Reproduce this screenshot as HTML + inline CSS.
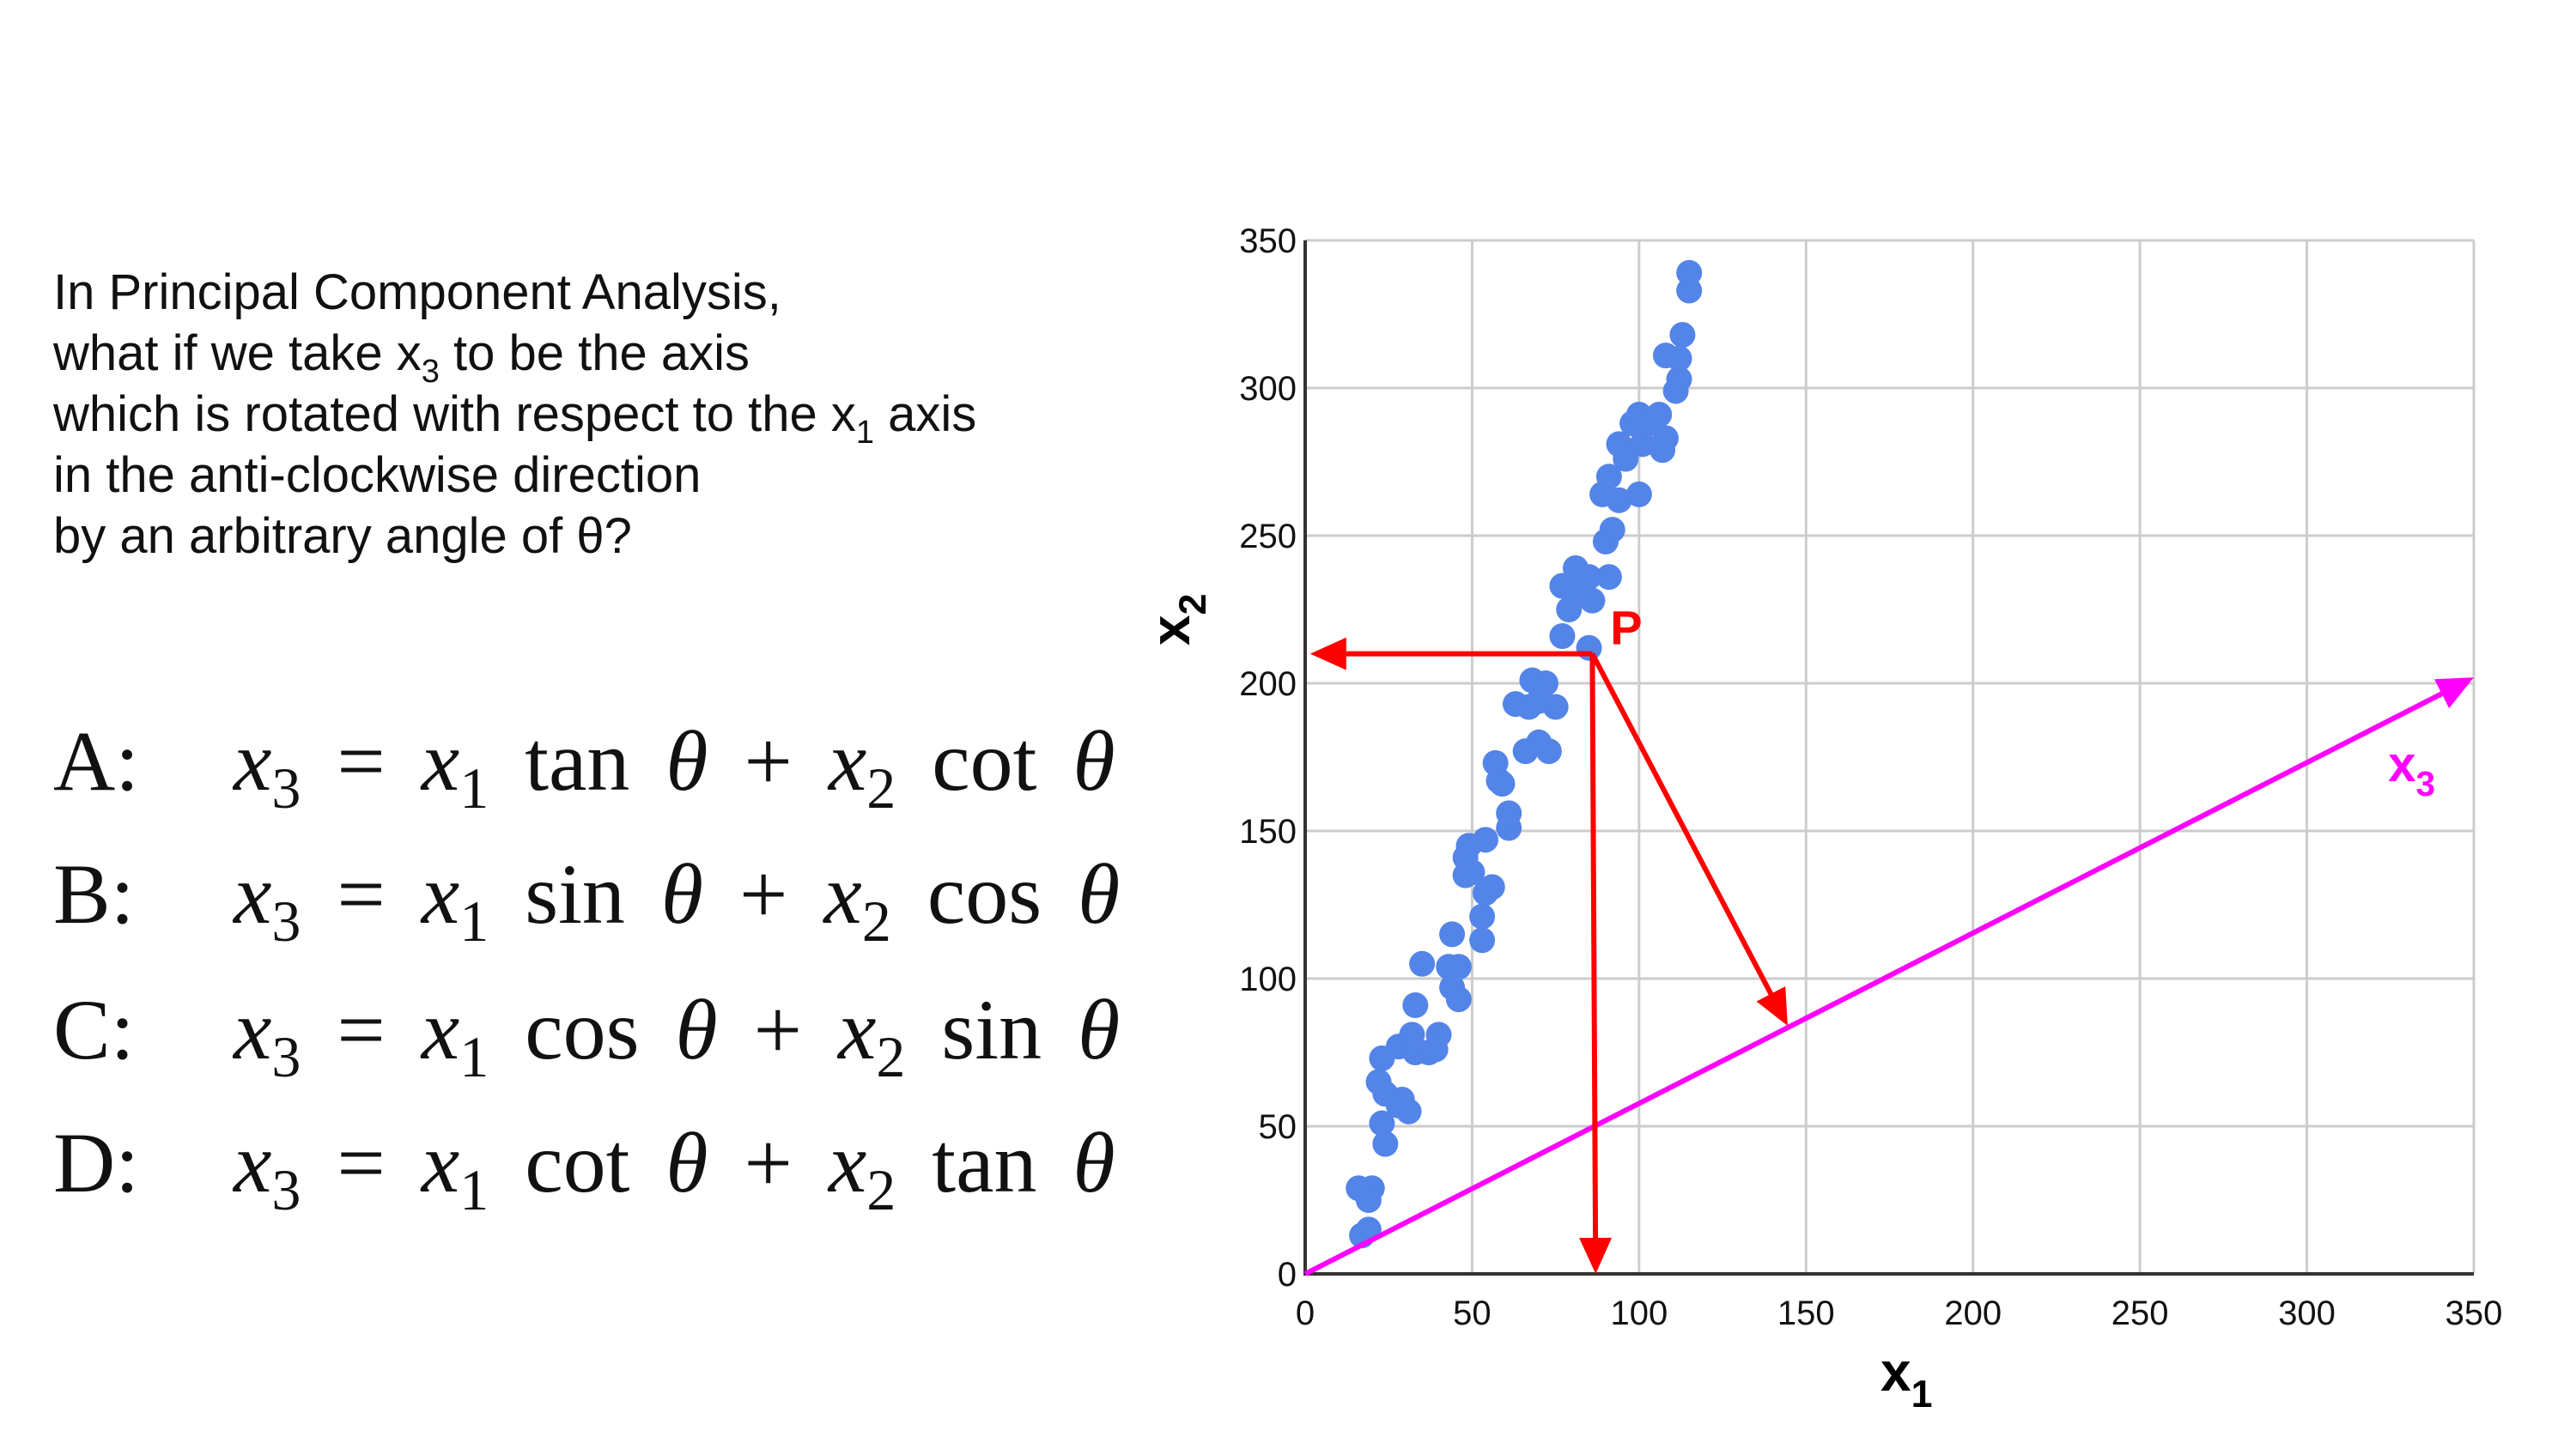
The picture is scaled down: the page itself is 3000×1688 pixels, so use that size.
<!DOCTYPE html>
<html><head><meta charset="utf-8"><style>
html,body{margin:0;padding:0;background:#fff;}
body{width:3000px;height:1688px;position:relative;overflow:hidden;font-family:"Liberation Sans",Arial,sans-serif;}
.q{position:absolute;left:62px;top:305px;font-size:58px;line-height:71px;color:#111;}
.q sub{font-size:38px;vertical-align:-14px;line-height:0;}
.eq{position:absolute;left:62px;font-family:"Liberation Serif","DejaVu Serif",serif;font-size:100px;color:#111;white-space:nowrap;word-spacing:17px;}
.eq .lab{display:inline-block;width:210px;word-spacing:0;}
.eq i{font-style:italic;}
.eq sub{font-size:68px;vertical-align:-21px;line-height:0;}
</style></head><body>
<div class="q">In Principal Component Analysis,<br>what if we take x<sub>3</sub> to be the axis<br>which is rotated with respect to the x<sub>1</sub> axis<br>in the anti-clockwise direction<br>by an arbitrary angle of θ?</div>
<div class="eq" style="top:829px"><span class="lab">A:</span><i>x</i><sub>3</sub> = <i>x</i><sub>1</sub> tan <i>θ</i> + <i>x</i><sub>2</sub> cot <i>θ</i></div>
<div class="eq" style="top:984px"><span class="lab">B:</span><i>x</i><sub>3</sub> = <i>x</i><sub>1</sub> sin <i>θ</i> + <i>x</i><sub>2</sub> cos <i>θ</i></div>
<div class="eq" style="top:1142px"><span class="lab">C:</span><i>x</i><sub>3</sub> = <i>x</i><sub>1</sub> cos <i>θ</i> + <i>x</i><sub>2</sub> sin <i>θ</i></div>
<div class="eq" style="top:1297px"><span class="lab">D:</span><i>x</i><sub>3</sub> = <i>x</i><sub>1</sub> cot <i>θ</i> + <i>x</i><sub>2</sub> tan <i>θ</i></div>
<svg id="chart" width="3000" height="1688" style="position:absolute;left:0;top:0" xmlns="http://www.w3.org/2000/svg"></svg>
<script>
const xTicks=[0,50,100,150,200,250,300,350];
const yTicks=[0,50,100,150,200,250,300,350];
const ptX=[16,20,19,17,19,22,23,24,23,24,28,31,29,28,32,33,33,37,40,39,35,43,46,44,46,44,53,53,54,56,48,50,48,49,54,61,61,58,57,59,66,70,73,63,67,68,72,75,70,77,85,77,81,85,82,86,79,91,90,92,89,91,94,100,94,98,100,96,101,106,108,107,103,111,112,108,112,113,115,115];
const ptY=[29,29,25,13,15,65,73,61,51,44,57,55,59,77,81,91,75,75,81,76,105,104,104,97,93,115,113,121,129,131,135,136,141,145,147,151,156,167,173,166,177,180,177,193,192,201,200,192,194,216,212,233,239,236,231,228,225,236,248,252,264,270,262,264,281,288,291,276,281,291,283,279,288,299,303,311,310,318,339,333];
const P=[86,210];
const projTip=[144.5,84];
const x3End=[350,202];
const L=1520,R=2881,T=280,B=1484;
const sx=v=>L+v/350*(R-L), sy=v=>B-v/350*(B-T);
const svg=document.getElementById('chart');
const NS='http://www.w3.org/2000/svg';
function mk(tag,a){const e=document.createElementNS(NS,tag);for(const k in a)e.setAttribute(k,a[k]);svg.appendChild(e);return e;}
xTicks.forEach(t=>{const g=mk('line',{x1:sx(t),x2:sx(t),y1:T,y2:B,stroke:'#cccccc','stroke-width':3});


const tx=mk('text',{x:sx(t),y:1543,'text-anchor':'middle','font-size':40,fill:'#111','font-family':'Liberation Sans, sans-serif'});tx.textContent=t;

});
yTicks.forEach(t=>{const g=mk('line',{x1:L,x2:R,y1:sy(t),y2:sy(t),stroke:'#cccccc','stroke-width':3});


const tx=mk('text',{x:1510,y:sy(t)+14,'text-anchor':'end','font-size':40,fill:'#111','font-family':'Liberation Sans, sans-serif'});tx.textContent=t;

});
let ax=mk('path',{d:`M${L} ${T} V${B} H${R}`,stroke:'#333',fill:'none','stroke-width':4});


ptX.forEach((x,i)=>{const c=mk('circle',{cx:sx(x),cy:sy(ptY[i]),r:15,fill:'#5384e8'});

});
function arrow(x1,y1,x2,y2,col,name){
 const ang=Math.atan2(y2-y1,x2-x1),hl=42,hw=19;
 const bx=x2-hl*Math.cos(ang),by=y2-hl*Math.sin(ang);
 const l=mk('line',{x1,y1,x2:bx,y2:by,stroke:col,'stroke-width':6});
 
 
 const px=-Math.sin(ang)*hw,py=Math.cos(ang)*hw;
 const h=mk('polygon',{points:`${x2},${y2} ${bx+px},${by+py} ${bx-px},${by-py}`,fill:col});
 
 
}
arrow(sx(0),sy(0),sx(x3End[0]),sy(x3End[1]),'#ff00ff','x3-axis-arrow');
arrow(sx(P[0]),sy(P[1]),sx(1.5),sy(P[1]),'#ff0000','projection-x2-arrow');
arrow(sx(P[0]),sy(P[1]),sx(P[0]+1),sy(0),'#ff0000','projection-x1-arrow');
arrow(sx(P[0]),sy(P[1]),sx(projTip[0]),sy(projTip[1]),'#ff0000','projection-x3-arrow');
function label(txt,sub,x,y,col,size,name,rot){
 const t=mk('text',{x,y,fill:col,'font-size':size,'font-weight':'bold','font-family':'Liberation Sans, sans-serif'});
 if(rot)t.setAttribute('transform',`rotate(-90 ${x} ${y})`);
 t.textContent=txt;
 if(sub){const s=document.createElementNS(NS,'tspan');s.setAttribute('font-size',size*0.7);s.setAttribute('dy',size*0.3);s.textContent=sub;t.appendChild(s);}
 
 
}
label('P','',sx(96)-18,sy(219)+20,'#ff0000',56,'point-p-label');
label('x','3',sx(330)-22,sy(171)+14,'#ff00ff',58,'x3-label');
label('x','1',2190,1620,'#000',64,'x1-axis-title');
label('x','2',1385,752,'#000',64,'x2-axis-title',true);
</script>
</body></html>
